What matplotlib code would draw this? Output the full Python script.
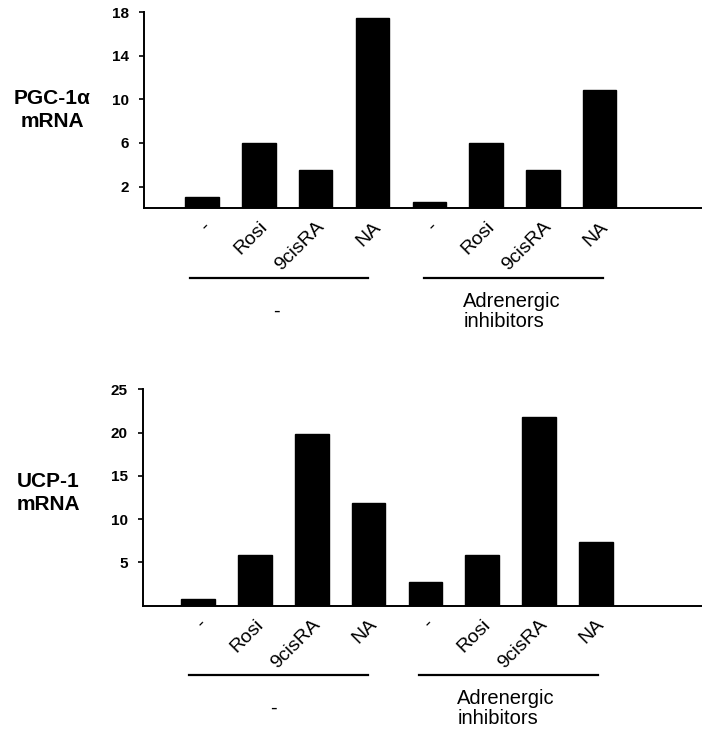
import matplotlib
matplotlib.use("Agg")
import matplotlib.pyplot as plt
from matplotlib.transforms import offset_copy

plt.rcParams['font.family'] = ['Liberation Sans', 'DejaVu Sans']

categories = ['-', 'Rosi', '9cisRA', 'NA', '-', 'Rosi', '9cisRA', 'NA']
pgc_values = [1.0, 6.0, 3.5, 17.5, 0.6, 6.0, 3.5, 10.9]
ucp_values = [0.8, 5.9, 19.8, 11.9, 2.7, 5.9, 21.8, 7.4]
pgc_ticks = [2, 6, 10, 14, 18]
ucp_ticks = [5, 10, 15, 20, 25]
group_labels = ['-', 'Adrenergic\ninhibitors']
pgc_ylabel = 'PGC-1α\nmRNA'
ucp_ylabel = 'UCP-1\nmRNA'

fig = plt.figure(figsize=(7.02, 7.29), dpi=100)


def panel(rect, values, ticks, ymax, xlim, lines, line_y, lab_x, lab_y, ylabel, ylab_pos):
    ax = fig.add_axes(rect)
    x = list(range(len(values)))
    ax.bar(x, values, width=0.59, color='black', edgecolor='black')
    ax.set_xlim(*xlim)
    ax.set_ylim(0, ymax)
    ax.set_yticks(ticks)
    ax.set_yticklabels([str(t) for t in ticks], fontsize=11, fontweight='bold')
    ax.tick_params(axis='y', direction='out', length=3.5, width=1.2, pad=7)
    ax.set_xticks([])
    for s in ['top', 'right']:
        ax.spines[s].set_visible(False)
    for s in ['left', 'bottom']:
        ax.spines[s].set_linewidth(1.4)
    # rotated category labels
    for i, c in enumerate(categories):
        tr = offset_copy(ax.transData, fig=fig, x=6, y=-16, units='dots')
        ax.text(i, 0, c, rotation=45, ha='right', va='center',
                rotation_mode='anchor', fontsize=14, transform=tr)
    # group lines and labels
    xt = ax.get_xaxis_transform()
    for k, ((x0, x1), gx, gl) in enumerate(zip(lines, lab_x, group_labels)):
        ax.plot([x0, x1], [line_y, line_y], color='black', lw=1.6,
                transform=xt, clip_on=False)
        ax.text(gx, lab_y, gl, ha='center', va='center', fontsize=14.5,
                transform=xt, linespacing=1.1, multialignment='left')
    fig.text(ylab_pos[0], ylab_pos[1], ylabel, ha='center', va='center',
             fontsize=15, fontweight='bold', linespacing=1.25)
    return ax


panel([143.5 / 702, 1 - 208.3 / 729, 1 - 143.5 / 702, 196 / 729],
      pgc_values, pgc_ticks, 18, (-1.03, 8.80),
      [(-0.22, 2.93), (3.91, 7.06)], -0.354, [1.31, 5.46], -0.526,
      pgc_ylabel, (52 / 702, 1 - 110 / 729))

panel([142.5 / 702, 1 - 605.7 / 729, 1 - 142.5 / 702, 216.4 / 729],
      ucp_values, ucp_ticks, 25, (-0.98, 8.87),
      [(-0.16, 2.99), (3.88, 7.04)], -0.320, [1.32, 5.42], -0.476,
      ucp_ylabel, (48 / 702, 1 - 493 / 729))

fig.savefig('out.png', dpi=100)
